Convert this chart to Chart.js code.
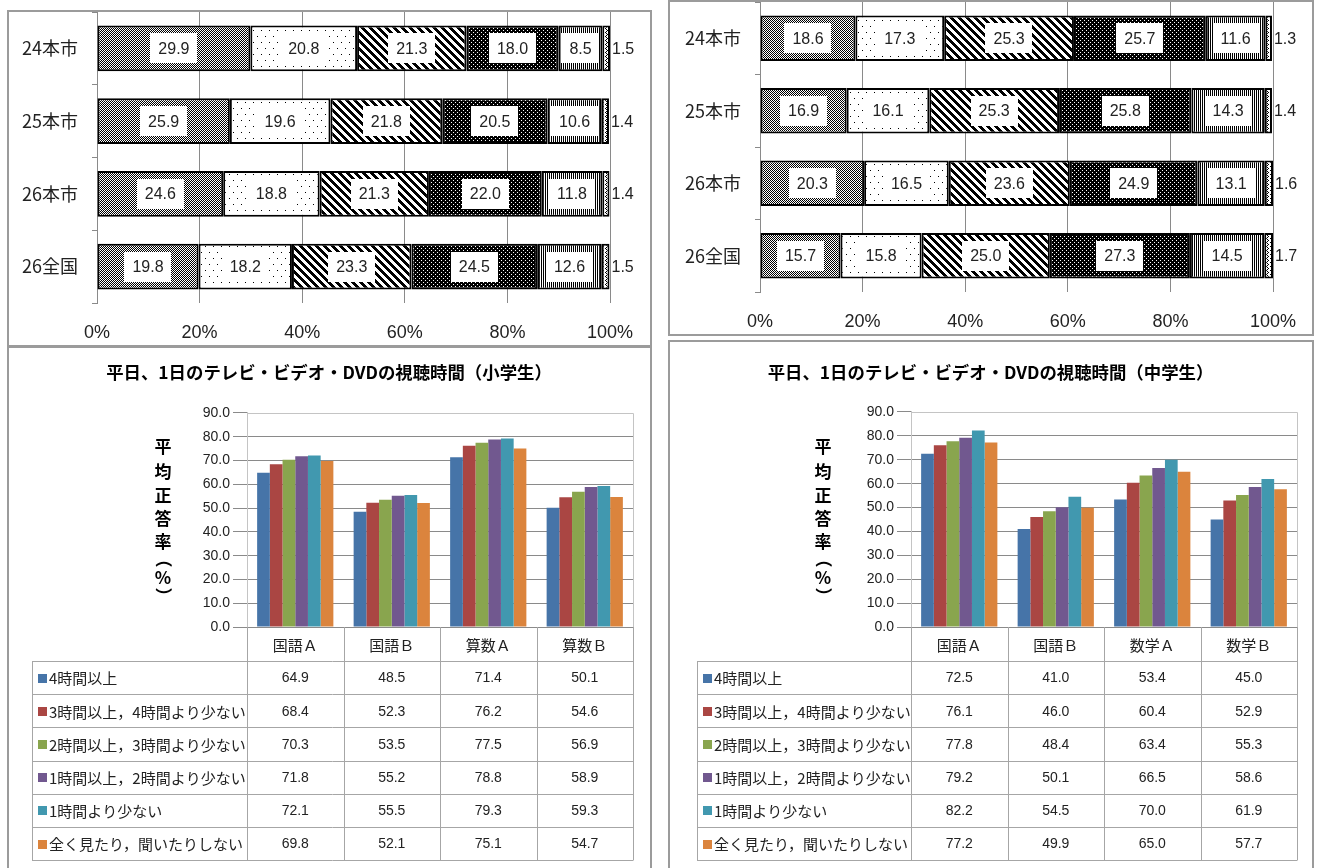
<!DOCTYPE html>
<html lang="ja">
<head>
<meta charset="utf-8">
<title>テレビ・ビデオ・DVDの視聴時間</title>
<script src="https://cdn.jsdelivr.net/npm/chart.js@4.4.1/dist/chart.umd.min.js"></script>
<style>
  html, body { margin: 0; padding: 0; background: #fff; }
  body { position: relative; width: 1318px; height: 868px; overflow: hidden; }
  .panel { position: absolute; box-sizing: border-box; border: 2px solid #9b9b9b; }
  canvas { position: absolute; }
</style>
</head>
<body>
<div class="panel" style="left:7px; top:10px; width:645px; height:337px;"></div>
<div class="panel" style="left:668px; top:0px; width:646px; height:336px;"></div>
<div class="panel" style="left:7px; top:346px; width:645px; height:540px;"></div>
<div class="panel" style="left:668px; top:340px; width:646px; height:540px;"></div>

<canvas id="shoRatio" width="640" height="332" style="left:9px; top:12px;"></canvas>
<canvas id="chuRatio" width="641" height="331" style="left:670px; top:2px;"></canvas>
<canvas id="shoScore" width="640" height="520" style="left:9px; top:348px;"></canvas>
<canvas id="chuScore" width="641" height="526" style="left:670px; top:342px;"></canvas>

<script>
// 上段：視聴時間の割合（%）
const yearLabels = ['24本市', '25本市', '26本市', '26全国'];

// 小学生
const shoPct1 = [29.9, 25.9, 24.6, 19.8];
const shoPct2 = [20.8, 19.6, 18.8, 18.2];
const shoPct3 = [21.3, 21.8, 21.3, 23.3];
const shoPct4 = [18.0, 20.5, 22.0, 24.5];
const shoPct5 = [8.5, 10.6, 11.8, 12.6];
const shoPct6 = [1.5, 1.4, 1.4, 1.5];

// 中学生
const chuPct1 = [18.6, 16.9, 20.3, 15.7];
const chuPct2 = [17.3, 16.1, 16.5, 15.8];
const chuPct3 = [25.3, 25.3, 23.6, 25.0];
const chuPct4 = [25.7, 25.8, 24.9, 27.3];
const chuPct5 = [11.6, 14.3, 13.1, 14.5];
const chuPct6 = [1.3, 1.4, 1.6, 1.7];

// 下段：平均正答率
const hourLabels = [
  '4時間以上',
  '3時間以上，4時間より少ない',
  '2時間以上，3時間より少ない',
  '1時間以上，2時間より少ない',
  '1時間より少ない',
  '全く見たり，聞いたりしない'
];
const shoSubjects = ['国語Ａ', '国語Ｂ', '算数Ａ', '算数Ｂ'];
const chuSubjects = ['国語Ａ', '国語Ｂ', '数学Ａ', '数学Ｂ'];

const shoScore1 = [64.9, 48.5, 71.4, 50.1];
const shoScore2 = [68.4, 52.3, 76.2, 54.6];
const shoScore3 = [70.3, 53.5, 77.5, 56.9];
const shoScore4 = [71.8, 55.2, 78.8, 58.9];
const shoScore5 = [72.1, 55.5, 79.3, 59.3];
const shoScore6 = [69.8, 52.1, 75.1, 54.7];

const chuScore1 = [72.5, 41.0, 53.4, 45.0];
const chuScore2 = [76.1, 46.0, 60.4, 52.9];
const chuScore3 = [77.8, 48.4, 63.4, 55.3];
const chuScore4 = [79.2, 50.1, 66.5, 58.6];
const chuScore5 = [82.2, 54.5, 70.0, 61.9];
const chuScore6 = [77.2, 49.9, 65.0, 57.7];

const hourColors = ['#4674A8', '#AA4643', '#89A54E', '#71588F', '#4198AF', '#DB843D'];

const JP = '"Noto Sans CJK JP", "Noto Sans", sans-serif';
const NUM = '"Liberation Sans", Arial, sans-serif';

Chart.defaults.animation = false;
Chart.defaults.responsive = false;
Chart.defaults.plugins.legend.display = false;
Chart.defaults.plugins.tooltip.enabled = false;

// 白黒の網掛けパターン
function makePattern(rows) {
  const c = document.createElement('canvas');
  c.width = rows[0].length;
  c.height = rows.length;
  const g = c.getContext('2d');
  g.fillStyle = '#fff';
  g.fillRect(0, 0, c.width, c.height);
  g.fillStyle = '#000';
  rows.forEach((r, y) => [...r].forEach((ch, x) => { if (ch === '#') g.fillRect(x, y, 1, 1); }));
  return g.createPattern(c, 'repeat');
}

const hatch = [
  makePattern(['#.#.', '.#.#', '#.#.', '.#.#']),
  makePattern(['#.......', '........', '........', '........', '........', '........',
               '....#...', '........', '........', '........', '........', '........']),
  makePattern(['####....', '.####...', '..####..', '...####.', '....####', '#....###', '##....##', '###....#']),
  makePattern(['.###', '####', '##.#', '####']),
  makePattern(['#.']),
  makePattern(['#...', '.#..', '..#.', '.#..'])
];

// 区分ごとの数値ラベル（白い箱）
const segLabels = {
  id: 'segLabels',
  afterDatasetsDraw(chart) {
    const ctx = chart.ctx;
    const last = chart.data.datasets.length - 1;
    ctx.save();
    ctx.font = '16px ' + NUM;
    ctx.textBaseline = 'middle';
    chart.data.datasets.forEach((ds, di) => {
      chart.getDatasetMeta(di).data.forEach((bar, i) => {
        const txt = ds.data[i].toFixed(1);
        if (di === last) {
          ctx.textAlign = 'left';
          ctx.fillStyle = '#222';
          ctx.fillText(txt, bar.x + 2, bar.y + 1);
          return;
        }
        const w = ctx.measureText(txt).width;
        const cx = (bar.x + bar.base) / 2;
        ctx.fillStyle = '#fff';
        ctx.fillRect(Math.round(cx - w / 2 - 8), Math.round(bar.y - 15), Math.round(w + 16), 30);
        ctx.textAlign = 'center';
        ctx.fillStyle = '#222';
        ctx.fillText(txt, cx, bar.y + 1);
      });
    });
    ctx.restore();
  }
};

function ratioChart(id, segs, axisWidth, padRight) {
  const ctx = document.getElementById(id).getContext('2d');
  return new Chart(ctx, {
    type: 'bar',
    data: {
      labels: yearLabels,
      datasets: segs.map((d, i) => ({
        data: d,
        backgroundColor: hatch[i],
        borderColor: '#000',
        borderWidth: 2,
        borderSkipped: false,
        barPercentage: 0.63,
        categoryPercentage: 1
      }))
    },
    options: {
      indexAxis: 'y',
      layout: { padding: { left: 0, right: padRight, top: 0, bottom: 0 } },
      scales: {
        x: {
          stacked: true,
          min: 0,
          max: 100,
          ticks: { stepSize: 20, callback: v => v + '%', padding: 19, color: '#222', font: { family: NUM, size: 18 } },
          grid: { color: '#8a8a8a', drawTicks: false },
          border: { display: false },
          afterFit: s => { s.height = 41; s.paddingLeft = 0; s.paddingRight = 0; }
        },
        y: {
          stacked: true,
          ticks: { padding: 14, color: '#222', font: { family: JP, size: 18 } },
          grid: { drawOnChartArea: false, offset: true, tickLength: 5, color: '#8a8a8a' },
          border: { color: '#8a8a8a' },
          afterFit: s => { s.width = axisWidth; s.paddingTop = 0; s.paddingBottom = 0; }
        }
      }
    },
    plugins: [segLabels]
  });
}

// プロットエリアの枠
const plotFrame = {
  id: 'plotFrame',
  beforeDatasetsDraw(chart) {
    const { ctx, chartArea: a } = chart;
    ctx.save();
    ctx.strokeStyle = '#c4c4c4';
    ctx.lineWidth = 1;
    ctx.beginPath();
    ctx.moveTo(Math.round(a.left) + 0.5, Math.round(a.top) + 0.5);
    ctx.lineTo(Math.round(a.right) + 0.5, Math.round(a.top) + 0.5);
    ctx.lineTo(Math.round(a.right) + 0.5, Math.round(a.bottom));
    ctx.stroke();
    ctx.restore();
  }
};

// 縦書きの軸タイトル
const yTitle = {
  id: 'yTitle',
  afterDraw(chart, args, o) {
    const ctx = chart.ctx;
    const steps = [0, 25, 49, 72, 95, 112, 131, 149];
    ctx.save();
    ctx.font = 'bold 17px ' + JP;
    ctx.fillStyle = '#000';
    ctx.textAlign = 'center';
    ctx.textBaseline = 'middle';
    [...o.text].forEach((ch, i) => {
      ctx.save();
      ctx.translate(o.x, o.top + steps[i]);
      if (ch === '（' || ch === '）') ctx.rotate(Math.PI / 2);
      ctx.fillText(ch, 0, 0);
      ctx.restore();
    });
    ctx.restore();
  }
};

// グラフ下のデータテーブル
const dataTable = {
  id: 'dataTable',
  afterDraw(chart, args, o) {
    const { ctx, chartArea: a, scales: { x } } = chart;
    const n = chart.data.labels.length;
    const sets = chart.data.datasets;
    const colW = (a.right - a.left) / n;
    const headH = 34, rowH = 33.2;
    const top = a.bottom;
    const bottom = top + headH + sets.length * rowH;
    const px = v => Math.round(v) + 0.5;

    ctx.save();
    ctx.strokeStyle = '#a6a6a6';
    ctx.lineWidth = 1;
    ctx.beginPath();
    for (let r = 0; r <= sets.length; r++) {
      const y = px(top + headH + r * rowH);
      ctx.moveTo(o.left, y);
      ctx.lineTo(a.right, y);
    }
    for (let c = 0; c <= n; c++) {
      const xx = px(a.left + c * colW);
      ctx.moveTo(xx, top);
      ctx.lineTo(xx, px(bottom));
    }
    ctx.moveTo(px(o.left), px(top + headH));
    ctx.lineTo(px(o.left), px(bottom));
    ctx.stroke();

    ctx.fillStyle = '#222';
    ctx.textAlign = 'center';
    ctx.textBaseline = 'middle';
    ctx.font = '15px ' + JP;
    chart.data.labels.forEach((lab, i) => ctx.fillText(lab, x.getPixelForValue(i), top + headH / 2 + 1));

    sets.forEach((ds, r) => {
      const cy = top + headH + r * rowH + rowH / 2;
      ctx.fillStyle = ds.backgroundColor;
      ctx.fillRect(o.left + 6, Math.round(cy - 4), 9, 9);
      ctx.fillStyle = '#222';
      ctx.textAlign = 'left';
      ctx.font = '15px ' + JP;
      ctx.fillText(ds.label, o.left + 17, cy + 1);
      ctx.textAlign = 'center';
      ctx.font = '14px ' + NUM;
      ds.data.forEach((v, i) => ctx.fillText(v.toFixed(1), x.getPixelForValue(i), cy + 1));
    });
    ctx.restore();
  }
};

function scoreChart(id, cats, series, titleText, o) {
  const ctx = document.getElementById(id).getContext('2d');
  return new Chart(ctx, {
    type: 'bar',
    data: {
      labels: cats,
      datasets: series.map((d, i) => ({
        label: hourLabels[i],
        data: d,
        backgroundColor: hourColors[i],
        categoryPercentage: 0.79,
        barPercentage: 1
      }))
    },
    options: {
      layout: { padding: { left: o.pad, right: o.pad, top: 0, bottom: 241 } },
      plugins: {
        title: {
          display: true,
          text: titleText,
          color: '#000',
          font: { family: JP, size: 17.4, weight: 'bold' },
          padding: { top: o.titleTop, bottom: o.titleBottom }
        },
        yTitle: { text: '平均正答率（%）', x: o.yTitleX, top: o.yTitleTop },
        dataTable: { left: o.tableLeft }
      },
      scales: {
        x: {
          ticks: { display: false },
          grid: { display: false },
          border: { color: '#8a8a8a' },
          afterFit: s => { s.height = 0; s.paddingLeft = 0; s.paddingRight = 0; }
        },
        y: {
          min: 0,
          max: 90,
          ticks: { stepSize: 10, callback: v => v.toFixed(1), padding: 3, color: '#222', font: { family: NUM, size: 14 } },
          grid: {
            color: c => (c.tick && c.tick.value === 90) ? 'rgba(0,0,0,0)' : '#8a8a8a',
            tickColor: '#8a8a8a',
            tickLength: 14
          },
          border: { color: '#c4c4c4' },
          afterFit: s => { s.width = o.axisWidth; }
        }
      }
    },
    plugins: [plotFrame, yTitle, dataTable]
  });
}

ratioChart('shoRatio', [shoPct1, shoPct2, shoPct3, shoPct4, shoPct5, shoPct6], 88, 39);
ratioChart('chuRatio', [chuPct1, chuPct2, chuPct3, chuPct4, chuPct5, chuPct6], 90, 38);

scoreChart('shoScore', shoSubjects,
  [shoScore1, shoScore2, shoScore3, shoScore4, shoScore5, shoScore6],
  '平日、1日のテレビ・ビデオ・DVDの視聴時間（小学生）',
  { pad: 16, titleTop: 13.6, titleBottom: 30.5, axisWidth: 222, yTitleX: 154, yTitleTop: 99, tableLeft: 23 });

scoreChart('chuScore', chuSubjects,
  [chuScore1, chuScore2, chuScore3, chuScore4, chuScore5, chuScore6],
  '平日、1日のテレビ・ビデオ・DVDの視聴時間（中学生）',
  { pad: 14, titleTop: 19.6, titleBottom: 29.5, axisWidth: 227, yTitleX: 153, yTitleTop: 105, tableLeft: 27 });
</script>
</body>
</html>
